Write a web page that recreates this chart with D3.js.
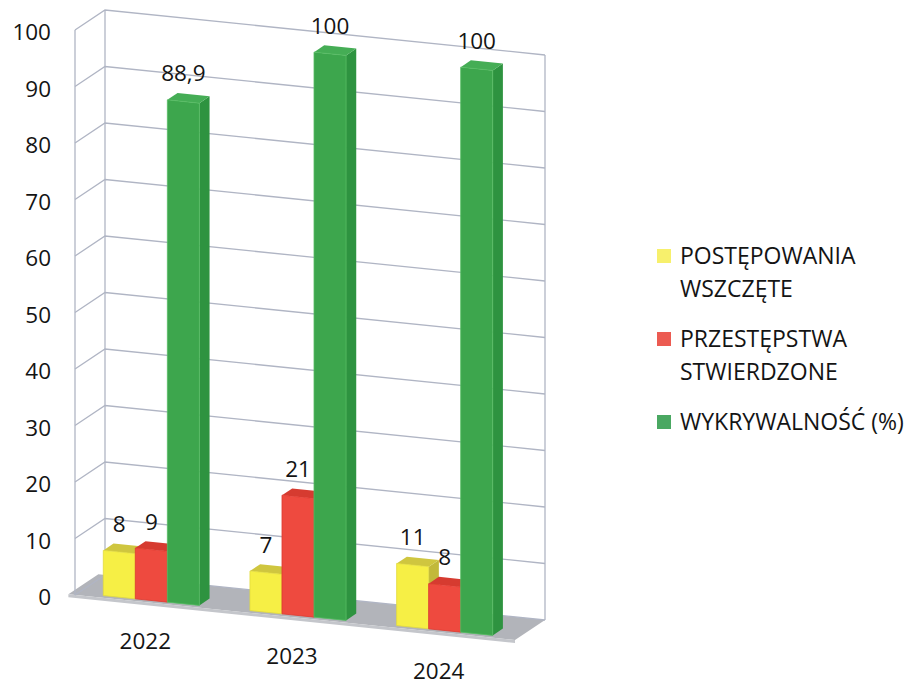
<!DOCTYPE html>
<html>
<head>
<meta charset="utf-8">
<script src="https://cdn.jsdelivr.net/npm/d3@7"></script>
<style>
  html, body { margin: 0; padding: 0; background: #fff; }
  svg { display: block; }
  text { font-family: "Open Sans", "Noto Sans", sans-serif; fill: #141414; }
</style>
</head>
<body>
<svg id="chart" width="910" height="686"></svg>
<script>
// ---- data ----
const years = ["2022", "2023", "2024"];
const seriesNames = ["POSTĘPOWANIA\nWSZCZĘTE", "PRZESTĘPSTWA\nSTWIERDZONE", "WYKRYWALNOŚĆ (%)"];
const postepowania = [8, 7, 11];
const przestepstwa = [9, 21, 8];
const wykrywalnosc = [88.9, 100, 100];
const yTicks = [0, 10, 20, 30, 40, 50, 60, 70, 80, 90, 100];

// ---- styles ----
const colors = [
  { front: "#f6ef45", top: "#cfc63f", side: "#c2b93a", edge: "#e2da3c", legend: "#f7f06c" },
  { front: "#ee4a3f", top: "#d63b30", side: "#c9362c", edge: "#e03a30", legend: "#ec5b52" },
  { front: "#3da64d", top: "#45ad55", side: "#2e9340", edge: "#55bd62", legend: "#4aa862" }
];

const svg = d3.select("#chart");

// ---- oblique 3D projection ----
// u: category axis [0,1], v: value, w: depth [0 front .. 1 back]
const origin = [75, 595];
const uVec = [440, 45];
const wVec = [30, -20];
const vScale = d3.scaleLinear().domain([0, 100]).range([0, 565]);
function P(u, v, w) {
  return [origin[0] + uVec[0] * u + wVec[0] * w,
          origin[1] + uVec[1] * u - vScale(v) + wVec[1] * w];
}
const poly = pts => pts.map(p => p.join(",")).join(" ");

const x0 = d3.scaleBand().domain(years).range([0, 1]);
const x1 = d3.scaleBand().domain(d3.range(3)).range([0, x0.bandwidth()]).paddingOuter(0.79);

const data = years.map((y, i) => ({ year: y, values: [postepowania[i], przestepstwa[i], wykrywalnosc[i]] }));

// ---- floor ----
const g = svg.append("g");
g.append("polygon")
  .attr("points", poly([P(-0.015, 0, 0), P(1, 0, 0), P(1, 0, 1), P(-0.015, 0, 1)]))
  .attr("fill", "#b2b4ba");
g.append("polygon")
  .attr("points", poly([P(-0.015, 0, 0), P(1, 0, 0), [P(1, 0, 0)[0], P(1, 0, 0)[1] + 3], [P(-0.015, 0, 0)[0], P(-0.015, 0, 0)[1] + 3]]))
  .attr("fill", "#c4c6cb");

// ---- walls / gridlines ----
const gridColor = "#b0b5c4";
const grid = g.append("g").attr("stroke", gridColor).attr("stroke-width", 1.3).attr("fill", "none");
yTicks.forEach(t => {
  grid.append("polyline").attr("points", poly([P(0, t, 0), P(0, t, 1), P(1, t, 1)]));
});
[[0, 0], [0, 1], [1, 1]].forEach(([u, w]) => {
  grid.append("line")
    .attr("x1", P(u, 0, w)[0]).attr("y1", P(u, 0, w)[1])
    .attr("x2", P(u, 100, w)[0]).attr("y2", P(u, 100, w)[1]);
});

// ---- y axis labels ----
g.append("g").selectAll("text").data(yTicks).join("text")
  .attr("x", 51)
  .attr("y", d => P(0, d, 0)[1] + 10)
  .attr("text-anchor", "end")
  .attr("font-size", 22.5)
  .text(d => d);

// ---- bars ----
const wf = 0.1, wb = 0.44;
const bars = g.append("g");
const fmt = v => String(v).replace(".", ",");
data.forEach(d => {
  d.values.forEach((v, s) => {
    const u0 = x0(d.year) + x1(s);
    const u1 = u0 + x1.bandwidth();
    const c = colors[s];
    const gb = bars.append("g");
    // side face
    gb.append("polygon")
      .attr("points", poly([P(u1, 0, wf), P(u1, 0, wb), P(u1, v, wb), P(u1, v, wf)]))
      .attr("fill", c.side);
    // top face
    gb.append("polygon")
      .attr("points", poly([P(u0, v, wf), P(u1, v, wf), P(u1, v, wb), P(u0, v, wb)]))
      .attr("fill", c.top);
    // front face
    gb.append("polygon")
      .attr("points", poly([P(u0, 0, wf), P(u1, 0, wf), P(u1, v, wf), P(u0, v, wf)]))
      .attr("fill", c.front)
      .attr("stroke", c.edge).attr("stroke-width", 0.8);
  });
});

// ---- data labels ----
const labels = g.append("g");
data.forEach(d => {
  d.values.forEach((v, s) => {
    const u0 = x0(d.year) + x1(s);
    const uc = u0 + x1.bandwidth() / 2;
    const p = P(uc, v, wf);
    labels.append("text")
      .attr("x", p[0])
      .attr("y", p[1] - 20)
      .attr("text-anchor", "middle")
      .attr("font-size", 22.5)
      .text(fmt(v));
  });
});

// ---- category labels ----
g.append("g").selectAll("text").data(years).join("text")
  .attr("x", d => P(x0(d) + x0.bandwidth() / 2, 0, 0)[0] - 3)
  .attr("y", d => P(x0(d) + x0.bandwidth() / 2, 0, 0)[1] + 46)
  .attr("text-anchor", "middle")
  .attr("font-size", 22.5)
  .text(d => d);

// ---- legend ----
const legend = svg.append("g");
let ly = 264;
seriesNames.forEach((name, i) => {
  const lines = name.split("\n");
  legend.append("rect")
    .attr("x", 657).attr("y", ly - 15).attr("width", 14).attr("height", 14)
    .attr("fill", colors[i].legend);
  lines.forEach((ln, j) => {
    legend.append("text")
      .attr("x", 680).attr("y", ly + j * 33)
      .attr("font-size", 23)
      .text(ln);
  });
  ly += lines.length * 33 + 17;
});
</script>
</body>
</html>
